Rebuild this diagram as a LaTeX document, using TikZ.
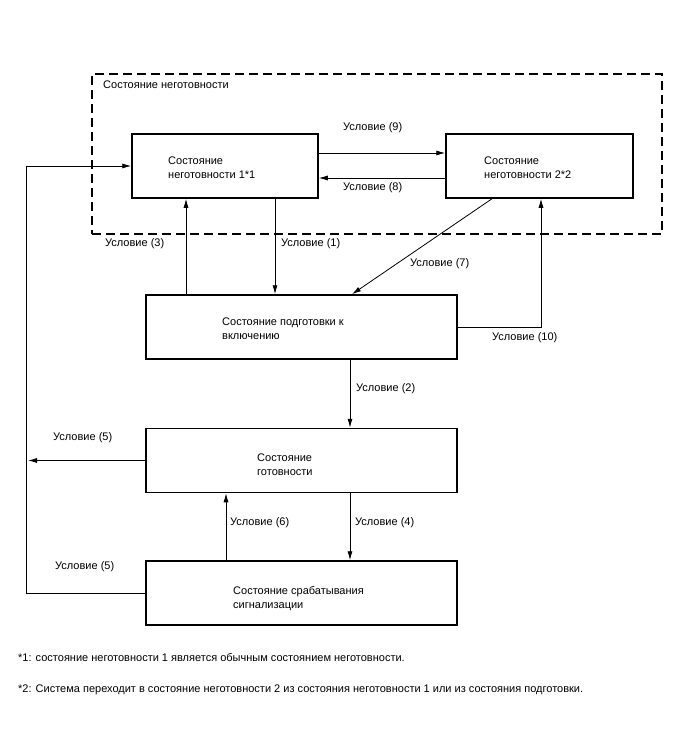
\documentclass[tikz,border=0pt]{standalone}
\usepackage{fontspec}
\setmainfont{Liberation Sans}
\usetikzlibrary{arrows.meta}
\tikzset{
  state/.style={draw, black, rectangle, line width=1.5pt, minimum width=#1, minimum height=64pt, inner sep=0pt},
  txt/.style={anchor=north west, align=left, inner sep=0pt, font=\fontsize{11}{14}\selectfont},
  cond/.style={anchor=west, inner sep=0pt, font=\fontsize{11}{12}\selectfont},
  arr/.style={-{Latex[length=9pt,width=5pt]}, line width=0.8pt}
}
\begin{document}
\begin{tikzpicture}[x=1pt, y=-1pt]
  \useasboundingbox (0,0) rectangle (688,755);
  % group of not-ready states
  \node (zone) [draw, black, rectangle, line width=1.5pt, dash pattern=on 9pt off 5pt,
    minimum width=570pt, minimum height=160pt, inner sep=0pt] at (377,154) {};
  \node (zonetxt) [cond] at (103,85) {Состояние неготовности};
  % states
  \node (nr1) [state=186pt] at (225,166) {};
  \node (nr2) [state=187pt] at (539.5,166) {};
  \node (prep) [state=311pt] at (301.5,327) {};
  \node (ready) [state=311pt] at (301.5,460.5) {};
  \node (alarm) [state=311pt] at (301.5,593) {};
  \node (nr1txt) [txt] at (168,157) {Состояние\\неготовности 1*1};
  \node (nr2txt) [txt] at (484,157) {Состояние\\неготовности 2*2};
  \node (preptxt) [txt] at (222,318) {Состояние подготовки к\\включению};
  \node (readytxt) [txt] at (257,454) {Состояние\\готовности};
  \node (alarmtxt) [txt] at (233,586) {Состояние срабатывания\\сигнализации};
  % transitions
  \draw[arr] (nr1.east |- 0,153) -- (nr2.west |- 0,153);
  \node (c9) [cond] at (343,128) {Условие (9)};
  \draw[arr] (nr2.west |- 0,178) -- (nr1.east |- 0,178);
  \node (c8) [cond] at (343,188) {Условие (8)};
  \draw[arr] (prep.north -| 186,0) -- (nr1.south -| 186,0);
  \node (c3) [cond] at (105,244) {Условие (3)};
  \draw[arr] (nr1.south -| 275,0) -- (prep.north -| 275,0);
  \node (c1) [cond] at (281,244) {Условие (1)};
  \draw[arr] (nr2.south -| 492,0) -- (prep.north -| 352,0);
  \node (c7) [cond] at (410,264) {Условие (7)};
  \draw[arr] (prep.east) -| (nr2.south -| 541,0);
  \node (c10) [cond] at (492,338) {Условие (10)};
  \draw[arr] (prep.south -| 350,0) -- (ready.north -| 350,0);
  \node (c2) [cond] at (356,389) {Условие (2)};
  \coordinate (out5) at (28,460.5);
  \draw[arr] (ready.west) -- (out5);
  \node (c5a) [cond] at (53,438) {Условие (5)};
  \draw[arr] (alarm.north -| 226,0) -- (ready.south -| 226,0);
  \node (c6) [cond] at (230,523) {Условие (6)};
  \draw[arr] (ready.south -| 350,0) -- (alarm.north -| 350,0);
  \node (c4) [cond] at (355,523) {Условие (4)};
  \coordinate (loop) at (26,166);
  \draw[arr] (alarm.west) -| (loop) -- (nr1.west);
  \node (c5b) [cond] at (55,567) {Условие (5)};
  % notes
  \node (note1) [cond] at (18,658) {*1: состояние неготовности 1 является обычным состоянием неготовности.};
  \node (note2) [cond] at (18,690) {*2: Система переходит в состояние неготовности 2 из состояния неготовности 1 или из состояния подготовки.};
\end{tikzpicture}
\end{document}
